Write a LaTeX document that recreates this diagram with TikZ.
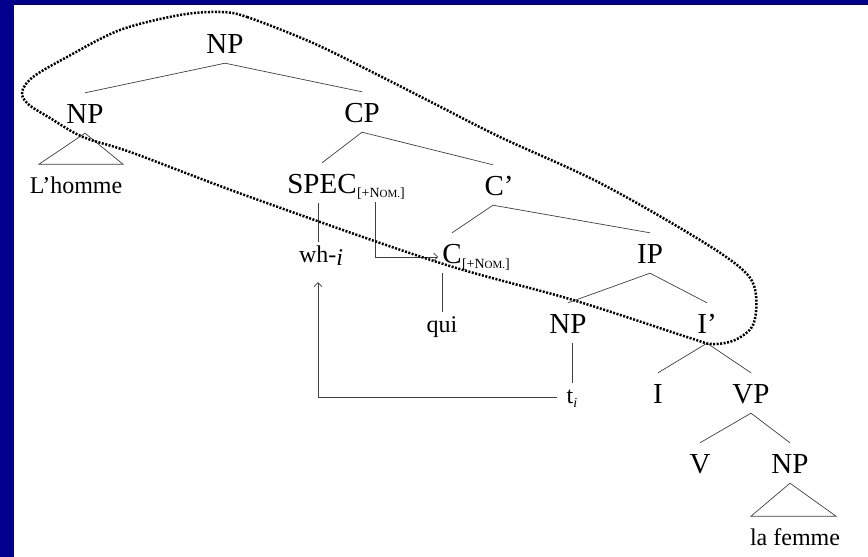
\documentclass[tikz,border=0pt]{standalone}
\usepackage{fontspec}
\setmainfont{Liberation Serif}
\usetikzlibrary{arrows.meta}
\definecolor{frameblue}{RGB}{0,0,140}
\begin{document}
\begin{tikzpicture}[x=1pt,y=-1pt,
  cat/.style={font=\fontsize{29}{30}\selectfont, text height=20pt, text depth=0pt, inner xsep=0pt, inner ysep=10pt, anchor=base},
  word/.style={font=\fontsize{24}{26}\selectfont, text height=17pt, text depth=5pt, inner xsep=0pt, inner ysep=3pt, anchor=base},
  subsc/.style={font=\fontsize{14}{15}\selectfont, inner xsep=0pt, inner ysep=3pt, anchor=base west},
  branch/.style={draw=black!75, line width=0.7pt},
  arr/.style={branch, -{Straight Barb[length=4pt,width=8pt]}},
  loopline/.style={line width=2.5pt, dash pattern=on 2pt off 1.5pt}]
\useasboundingbox (0,0) rectangle (868,557);
\fill[white] (0,0) rectangle (868,557);
\fill[frameblue] (0,0) rectangle (868,5);
\fill[frameblue] (0,0) rectangle (14,557);

% categories
\node[cat] (np0) at (225,53) {NP};
\node[cat] (np1) at (85,123) {NP};
\node[cat] (cp) at (362,122) {CP};
\node[cat] (spec) at (322,193) {SPEC};
\node[subsc] (specsub) at ([yshift=-4pt]spec.base east) {[+N{\fontsize{11}{12}\selectfont OM.}]};
\node[cat] (cbar) at (499,195) {C’};
\node[cat] (c) at (452,263) {C};
\node[subsc] (csub) at ([yshift=-5pt]c.base east) {[+N{\fontsize{11}{12}\selectfont OM.}]};
\node[cat] (ip) at (650,263) {IP};
\node[cat] (np2) at (568,333) {NP};
\node[cat] (ibar) at (707,333) {I’};
\node[cat] (i) at (658,403) {I};
\node[cat] (vp) at (751,403) {VP};
\node[cat] (v) at (700,473) {V};
\node[cat] (np3) at (790,473) {NP};

% words
\node[word] (lh) at (76,193) {L’homme};
\node[word] (wh) at (321,262) {wh-\raisebox{-3pt}{\itshape i}};
\node[word] (qui) at (442,332) {qui};
\node[word] (t) at (572,403) {t\raisebox{-4pt}{\fontsize{14}{15}\selectfont\itshape i}};
\node[word] (lf) at (795,545) {la femme};

% branches
\draw[branch] (np0.south) -- (np1.north);
\draw[branch] (np0.south) -- (cp.north);
\draw[branch] (cp.south) -- (spec.north);
\draw[branch] (cp.south) -- ([xshift=-6pt]cbar.north);
\draw[branch] ([xshift=-6pt]cbar.south) -- (c.north);
\draw[branch] ([xshift=-6pt]cbar.south) -- (ip.north);
\draw[branch] (ip.south) -- (np2.north);
\draw[branch] (ip.south) -- (ibar.north);
\draw[branch] (ibar.south) -- (i.north);
\draw[branch] (ibar.south) -- (vp.north);
\draw[branch] (vp.south) -- (v.north);
\draw[branch] (vp.south) -- (np3.north);

% triangles
\draw[branch] (np1.south) -- ++(-46,31) -- ++(84,0) -- cycle;
\draw[branch] (np3.south) -- ++(-39,33) -- ++(85,0) -- cycle;

% vertical lines to terminals
\draw[branch] ([xshift=-3pt]wh.north) -- ([xshift=-3pt]wh.north |- spec.south);
\draw[branch] (qui.north) -- (qui.north |- c.south);
\draw[branch] (t.north) -- (t.north |- np2.south);

% arrows
\draw[arr] ([xshift=-6pt]specsub.south) |- ([xshift=-4pt,yshift=-4pt]c.west);
\draw[arr] ([xshift=-10pt]t.west) -| ([xshift=-3pt,yshift=-12pt]wh.south);

% dotted loop
\draw[loopline] plot[smooth cycle, tension=0.55] coordinates {
  (220,12) (247,17) (313,43) (380,76) (433,103) (500,137) (600,183) (700,240)
  (745,272) (756,295) (753,325) (735,340) (712,344) (690,338) (573,300)
  (437,262) (250,197) (133,153) (83,137) (50,118) (28,104) (22,92) (33,77)
  (67,57) (120,30) (180,15)};
\end{tikzpicture}
\end{document}
